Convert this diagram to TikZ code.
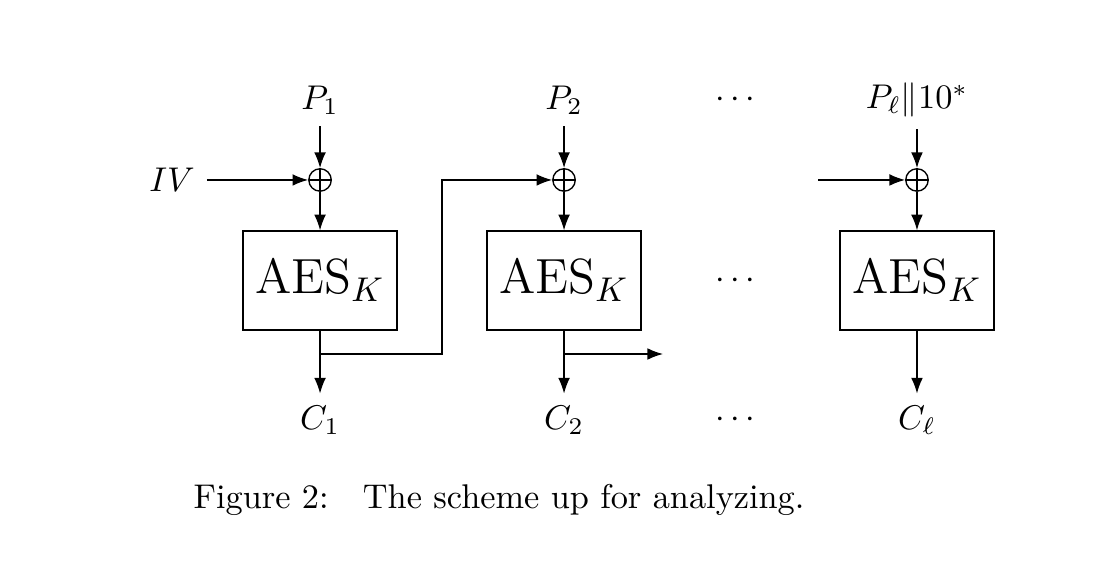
\documentclass[tikz,border=0pt]{standalone}
\usepackage{amsmath, amssymb}
\usepackage{tikz}
\usetikzlibrary{arrows.meta}

\begin{document}
\begin{tikzpicture}[box/.style={draw, minimum width=1.578cm, minimum height=1.014cm, font=\Large},
                xor/.style={circle, draw, inner sep=0pt, minimum size=2.3mm,
                    path picture={\draw (path picture bounding box.north) -- (path picture bounding box.south)
                        (path picture bounding box.west) -- (path picture bounding box.east);}},
                arr/.style={-{Latex[length=1.6mm, width=1.2mm]}}]
                \useasboundingbox (0,0) rectangle (11.311,-5.840);
                % inputs
                \node (p1) at (3.279,-1.025) {$P_1$};
                \node (p2) at (5.779,-1.025) {$P_2$};
                \node (pd) at (7.561,-1.025) {$\cdots$};
                \node (p3) at (9.395,-1.025) {$P_\ell\|10^*$};
                \node (iv) at (1.762,-1.844) {$IV$};
                % xor
                \node[xor] (x1) at (3.279,-1.844) {};
                \node[xor] (x2) at (5.779,-1.844) {};
                \node[xor] (x3) at (9.395,-1.844) {};
                % cipher blocks
                \node[box] (e1) at (3.279,-2.874) {$\mathrm{AES}_K$};
                \node[box] (e2) at (5.779,-2.874) {$\mathrm{AES}_K$};
                \node (ed) at (7.561,-2.874) {$\cdots$};
                \node[box] (e3) at (9.395,-2.874) {$\mathrm{AES}_K$};
                % outputs
                \node (c1) at (3.279,-4.303) {$C_1$};
                \node (c2) at (5.779,-4.303) {$C_2$};
                \node (cd) at (7.561,-4.303) {$\cdots$};
                \node (c3) at (9.395,-4.303) {$C_\ell$};
                \coordinate (b1) at (3.279,-3.627);
                \coordinate (t1) at (4.529,-1.844);
                \coordinate (b2) at (5.779,-3.627);
                \coordinate (o2) at (6.793,-3.627);
                \coordinate (i3) at (8.381,-1.844);
                \draw[arr] (p1) -- (x1);
                \draw[arr] (p2) -- (x2);
                \draw[arr] (p3) -- (x3);
                \draw[arr] (iv) -- (x1);
                \draw[arr] (x1) -- (e1);
                \draw[arr] (x2) -- (e2);
                \draw[arr] (x3) -- (e3);
                \draw[arr] (e1) -- (c1);
                \draw[arr] (e2) -- (c2);
                \draw[arr] (e3) -- (c3);
                \draw[arr] (b1) -| (t1) -- (x2);
                \draw[arr] (b2) -- (o2);
                \draw[arr] (i3) -- (x3);
                % caption
                \node (cap) at (5.113,-5.123) {Figure 2:\quad The scheme up for analyzing.};
            \end{tikzpicture}
\end{document}
